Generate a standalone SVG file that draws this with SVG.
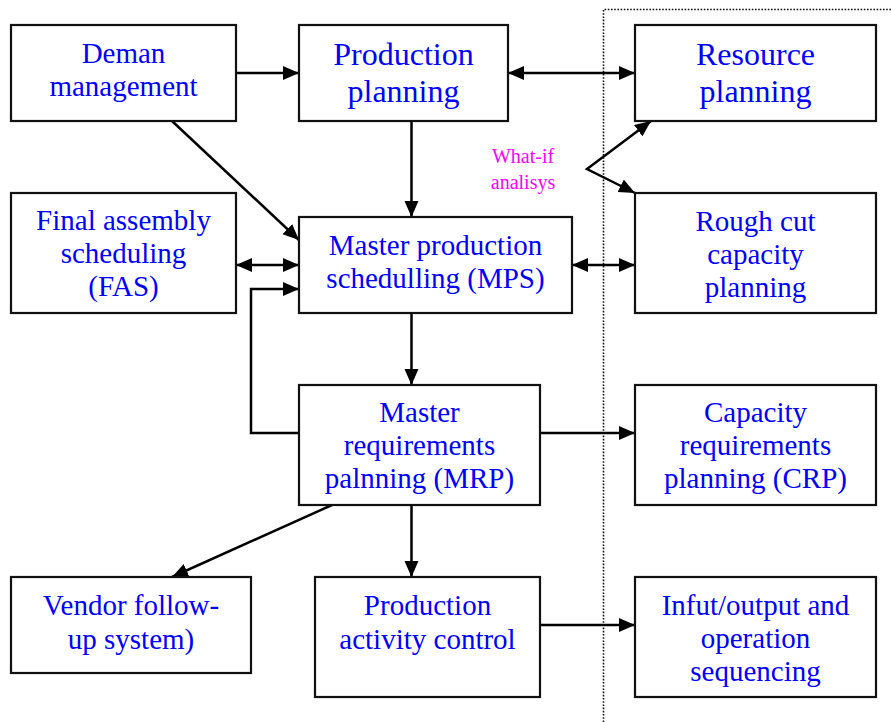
<svg xmlns="http://www.w3.org/2000/svg" width="891" height="722" viewBox="0 0 891 722">
  <style>
    .box { fill: #ffffff; stroke: #111111; stroke-width: 2.2; }
    .lbl { font-family: "Liberation Serif", "Times New Roman", serif; font-size: 29px; fill: #0000ff; text-anchor: middle; }
    .big { font-size: 32px; }
    .note { font-family: "Liberation Serif", "Times New Roman", serif; font-size: 20px; fill: #ff00ff; text-anchor: middle; }
    .link { fill: none; stroke: #000000; stroke-width: 2.5; stroke-linejoin: miter; }
    .one { marker-end: url(#head); }
    .two { marker-start: url(#head); marker-end: url(#head); }
    .border { fill: none; stroke: #111111; stroke-width: 1.6; stroke-dasharray: 1.6 1.6; }
  </style>
  <defs>
    <marker id="head" markerUnits="userSpaceOnUse" markerWidth="17" markerHeight="15" refX="16" refY="7" orient="auto-start-reverse">
      <path d="M0,0 L16,7 L0,14 z" fill="#000000"/>
    </marker>
  </defs>

  <rect width="891" height="722" fill="#ffffff"/>

  <!-- dotted frame around the capacity side -->
  <path class="border" d="M603.5,722 V9.5 H891"/>

  <!-- connectors -->
  <g id="connectors">
    <path class="link one" d="M236,73 H299"/>
    <path class="link two" d="M508,73 H635"/>
    <path class="link one" d="M411.5,121 V217"/>
    <path class="link one" d="M172,121 L299,240"/>
    <path class="link two" d="M236,265 H299"/>
    <path class="link one" d="M299,433 H251 V289 H299"/>
    <path class="link two" d="M572,265 H635"/>
    <path class="link two" d="M651,121 L587,169 L635,193"/>
    <path class="link one" d="M411.5,313 V385"/>
    <path class="link one" d="M540,433 H635"/>
    <path class="link one" d="M332,505 L172,577"/>
    <path class="link one" d="M411.5,505 V577"/>
    <path class="link one" d="M540,625 H635"/>
  </g>

  <!-- nodes -->
  <g id="demand">
    <rect class="box" x="11" y="25" width="225" height="96"/>
    <text class="lbl" x="123.5" y="63">Deman</text>
    <text class="lbl" x="123.5" y="96">management</text>
  </g>
  <g id="production-planning">
    <rect class="box" x="299" y="25" width="209" height="96"/>
    <text class="lbl big" x="403.5" y="65">Production</text>
    <text class="lbl big" x="403.5" y="102">planning</text>
  </g>
  <g id="resource-planning">
    <rect class="box" x="635" y="25" width="241" height="96"/>
    <text class="lbl big" x="755.5" y="65">Resource</text>
    <text class="lbl big" x="755.5" y="102">planning</text>
  </g>
  <g id="fas">
    <rect class="box" x="11" y="193" width="225" height="120"/>
    <text class="lbl" x="123.5" y="230">Final assembly</text>
    <text class="lbl" x="123.5" y="263">scheduling</text>
    <text class="lbl" x="123.5" y="296">(FAS)</text>
  </g>
  <g id="mps">
    <rect class="box" x="299" y="217" width="273" height="96"/>
    <text class="lbl" x="435.5" y="255">Master production</text>
    <text class="lbl" x="435.5" y="288">schedulling (MPS)</text>
  </g>
  <g id="rough-cut">
    <rect class="box" x="635" y="193" width="241" height="120"/>
    <text class="lbl" x="755.5" y="231">Rough cut</text>
    <text class="lbl" x="755.5" y="264">capacity</text>
    <text class="lbl" x="755.5" y="297">planning</text>
  </g>
  <g id="what-if">
    <text class="note" x="523" y="163">What-if</text>
    <text class="note" x="523" y="189">analisys</text>
  </g>
  <g id="mrp">
    <rect class="box" x="299" y="385" width="241" height="120"/>
    <text class="lbl" x="419.5" y="422">Master</text>
    <text class="lbl" x="419.5" y="455">requirements</text>
    <text class="lbl" x="419.5" y="488">palnning (MRP)</text>
  </g>
  <g id="crp">
    <rect class="box" x="635" y="385" width="241" height="120"/>
    <text class="lbl" x="755.5" y="422">Capacity</text>
    <text class="lbl" x="755.5" y="455">requirements</text>
    <text class="lbl" x="755.5" y="488">planning (CRP)</text>
  </g>
  <g id="vendor">
    <rect class="box" x="11" y="577" width="240" height="96"/>
    <text class="lbl" x="131" y="615">Vendor follow-</text>
    <text class="lbl" x="131" y="649">up system)</text>
  </g>
  <g id="pac">
    <rect class="box" x="315" y="577" width="225" height="120"/>
    <text class="lbl" x="427.5" y="615">Production</text>
    <text class="lbl" x="427.5" y="649">activity control</text>
  </g>
  <g id="io-sequencing">
    <rect class="box" x="635" y="577" width="241" height="120"/>
    <text class="lbl" x="755.5" y="615">Infut/output and</text>
    <text class="lbl" x="755.5" y="648">operation</text>
    <text class="lbl" x="755.5" y="681">sequencing</text>
  </g>
</svg>
